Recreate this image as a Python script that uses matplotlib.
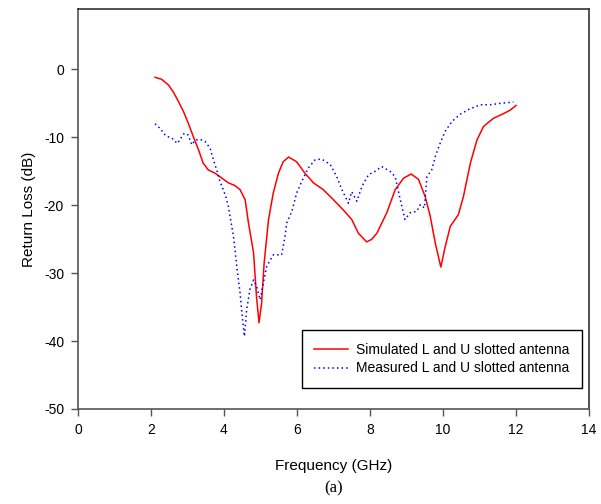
import matplotlib
matplotlib.use("Agg")
import matplotlib.pyplot as plt

sim_f = [2.11, 2.29, 2.48, 2.61, 2.75, 2.89, 3.02, 3.16, 3.30, 3.43, 3.57, 3.76, 3.94, 4.12, 4.30, 4.44, 4.58,
         4.67, 4.81, 4.89, 4.96, 5.03, 5.10, 5.22, 5.35, 5.49, 5.62, 5.77, 5.99, 6.22, 6.45, 6.72, 7.00, 7.27,
         7.50, 7.68, 7.91, 8.05, 8.19, 8.28, 8.46, 8.69, 8.92, 9.13, 9.33, 9.51, 9.65, 9.79, 9.94, 10.06, 10.20,
         10.42, 10.56, 10.75, 10.93, 11.11, 11.38, 11.66, 11.84, 12.00]
sim_db = [-1.15, -1.45, -2.3, -3.3, -4.7, -6.2, -7.9, -9.9, -11.8, -13.8, -14.8, -15.3, -16.0, -16.7, -17.1, -17.7, -19.2,
          -22.6, -27.0, -33.4, -37.3, -34.4, -28.5, -22.1, -18.2, -15.3, -13.6, -12.9, -13.6, -15.3, -16.7, -17.7, -19.2, -20.7,
          -22.1, -24.1, -25.4, -25.0, -24.1, -23.1, -21.1, -17.7, -16.0, -15.4, -16.2, -18.7, -21.6, -25.6, -29.1, -26.1, -23.1,
          -21.4, -18.7, -13.8, -10.4, -8.4, -7.2, -6.5, -6.0, -5.3]

meas_f = [2.11, 2.25, 2.41, 2.57, 2.72, 2.80, 2.89, 3.00, 3.07, 3.12, 3.21, 3.34, 3.48, 3.62, 3.71, 3.80, 3.89, 3.98,
          4.06, 4.12, 4.26, 4.35, 4.44, 4.50, 4.56, 4.62, 4.71, 4.81, 4.89, 4.99, 5.08, 5.17, 5.35, 5.58, 5.67, 5.72,
          5.86, 5.99, 6.13, 6.31, 6.50, 6.68, 6.91, 7.09, 7.23, 7.41, 7.50, 7.64, 7.78, 7.96, 8.14, 8.32, 8.55, 8.69,
          8.83, 8.96, 9.10, 9.28, 9.38, 9.49, 9.56, 9.69, 9.79, 9.92, 10.06, 10.24, 10.47, 10.70, 11.02, 11.29, 11.57, 11.93]
meas_db = [-8.0, -8.7, -9.8, -10.1, -10.9, -10.3, -9.5, -9.5, -10.4, -11.1, -10.4, -10.3, -10.6, -11.6, -13.3, -14.8, -16.5, -17.7,
           -18.9, -20.2, -24.6, -29.0, -32.9, -36.4, -39.3, -35.4, -32.4, -31.0, -31.9, -33.9, -31.4, -29.0, -27.3, -27.3, -24.6, -22.6,
           -20.9, -18.2, -16.5, -14.5, -13.3, -13.2, -14.0, -15.8, -17.7, -19.7, -18.0, -19.4, -17.2, -15.5, -15.0, -14.3, -15.0, -15.8,
           -19.2, -22.1, -21.1, -20.9, -19.9, -20.4, -15.8, -14.8, -12.8, -10.9, -9.1, -7.7, -6.6, -5.9, -5.2, -5.2, -5.0, -4.8]

x_ticks = [0, 2, 4, 6, 8, 10, 12, 14]
y_ticks = [-50, -40, -30, -20, -10, 0]

plt.rcParams['font.family'] = ['Liberation Sans', 'DejaVu Sans']
plt.rcParams['axes.unicode_minus'] = False

fig = plt.figure(figsize=(6.01, 5.04), dpi=100)
ax = fig.add_axes([78/601, 1-409/504, (589-78)/601, (409-9)/504])

ax.plot(sim_f, sim_db, color='red', lw=1.1, solid_joinstyle='round', label='Simulated L and U slotted antenna')
ax.plot(meas_f, meas_db, color='blue', lw=1.1, linestyle=(0, (1, 2)), label='Measured L and U slotted antenna')

ax.set_xlim(0, 14)
ax.set_ylim(-50, 8.9)
ax.set_xticks(x_ticks)
ax.set_yticks(y_ticks)
ax.tick_params(direction='out', length=5, width=1, labelsize=10, color='#555555', pad=5)
for s in ['left', 'bottom']:
    ax.spines[s].set_color('#555555')
    ax.spines[s].set_linewidth(1.2)
for s in ['top', 'right']:
    ax.spines[s].set_color('#333333')
    ax.spines[s].set_linewidth(1.2)

ax.set_xlabel('Frequency (GHz)', fontsize=11, labelpad=16)
ax.set_ylabel('Return Loss (dB)', fontsize=11, labelpad=6)

leg = ax.legend(loc='lower right', bbox_to_anchor=(582/601, 1-388/504), bbox_transform=fig.transFigure,
                fontsize=10, frameon=True, fancybox=False, edgecolor='black', framealpha=1,
                handlelength=2.4, handletextpad=0.6, borderpad=0.9, labelspacing=0.35, borderaxespad=0)
leg.get_frame().set_linewidth(1.0)

fig.text((78+589)/2/601, 1-488/504, '(a)', family='Liberation Serif', fontsize=12, ha='center', va='center')

fig.savefig('out.png', dpi=100)
